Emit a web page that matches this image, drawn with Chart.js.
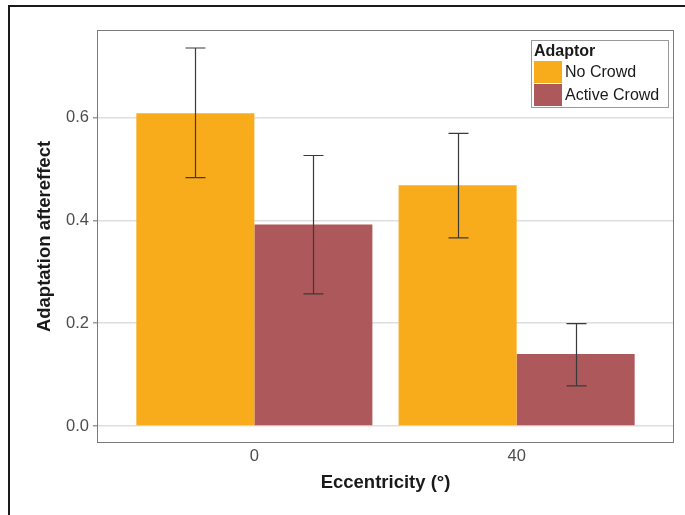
<!DOCTYPE html>
<html>
<head>
<meta charset="utf-8">
<script src="https://cdn.jsdelivr.net/npm/chart.js@4"></script>
<style>
  body { margin: 0; background: #fff; }
  #wrap { position: relative; width: 685px; height: 515px; }
  #frame { position: absolute; left: 8px; top: 5px; right: 0; bottom: 0;
           border-left: 2px solid #1a1a1a; border-top: 2px solid #1a1a1a; pointer-events: none; }
</style>
</head>
<body>
<div id="wrap">
  <canvas id="chart"></canvas>
  <div id="frame"></div>
</div>
<script>
// Data
const categories = ['0', '40'];
const seriesNames = ['No Crowd', 'Active Crowd'];
const noCrowd = [0.608, 0.468];
const activeCrowd = [0.392, 0.140];
const noCrowdLow = [0.483, 0.366];
const noCrowdHigh = [0.735, 0.569];
const activeCrowdLow = [0.257, 0.078];
const activeCrowdHigh = [0.526, 0.199];
const yTicks = [0, 0.2, 0.4, 0.6];

const colors = ['#F9AC1B', '#AD585A'];
const font = 'Liberation Sans, Arial, sans-serif';

// Panel border, error bars and legend drawn on top of the bars
const extras = {
    id: 'extras',
    afterDatasetsDraw(chart) {
        const ctx = chart.ctx;
        const a = chart.chartArea;
        const y = chart.scales.y;
        const lows = [noCrowdLow, activeCrowdLow];
        const highs = [noCrowdHigh, activeCrowdHigh];

        ctx.save();
        // error bars
        ctx.strokeStyle = '#3a3a3a';
        ctx.lineWidth = 1.2;
        chart.data.datasets.forEach((ds, d) => {
            chart.getDatasetMeta(d).data.forEach((bar, i) => {
                const x = Math.round(bar.x) + 0.5;
                const yl = y.getPixelForValue(lows[d][i]);
                const yh = y.getPixelForValue(highs[d][i]);
                ctx.beginPath();
                ctx.moveTo(x, yl); ctx.lineTo(x, yh);
                ctx.moveTo(x - 10, yl); ctx.lineTo(x + 10, yl);
                ctx.moveTo(x - 10, yh); ctx.lineTo(x + 10, yh);
                ctx.stroke();
            });
        });

        // panel border
        ctx.strokeStyle = '#7a7a7a';
        ctx.lineWidth = 1;
        ctx.strokeRect(Math.round(a.left) + 0.5, Math.round(a.top) + 0.5,
                       Math.round(a.right - a.left) - 1, Math.round(a.bottom - a.top) - 1);

        // legend
        const lx = 531, ly = 40;
        ctx.fillStyle = '#fff';
        ctx.fillRect(lx, ly, 137, 67);
        ctx.strokeStyle = '#9a9a9a';
        ctx.strokeRect(lx + 0.5, ly + 0.5, 137, 67);
        ctx.fillStyle = '#1a1a1a';
        ctx.font = 'bold 16px ' + font;
        ctx.textBaseline = 'middle';
        ctx.textAlign = 'left';
        ctx.fillText('Adaptor', lx + 3, ly + 12);
        ctx.font = '16px ' + font;
        seriesNames.forEach((name, i) => {
            const ky = ly + 21 + i * 23;
            ctx.fillStyle = colors[i];
            ctx.fillRect(lx + 3, ky, 28, 22);
            ctx.fillStyle = '#1a1a1a';
            ctx.fillText(name, lx + 34, ky + 11.5);
        });
        ctx.restore();
    }
};

new Chart(document.getElementById('chart'), {
    type: 'bar',
    data: {
        datasets: [
            { label: seriesNames[0], data: noCrowd.map((v, i) => ({ x: i, y: v })), backgroundColor: colors[0] },
            { label: seriesNames[1], data: activeCrowd.map((v, i) => ({ x: i, y: v })), backgroundColor: colors[1] }
        ]
    },
    options: {
        responsive: true,
        maintainAspectRatio: false,
        animation: false,
        layout: { padding: { top: 30, right: 11, left: 30, bottom: 17 } },
        datasets: { bar: { categoryPercentage: 0.9, barPercentage: 1.0 } },
        plugins: { legend: { display: false }, tooltip: { enabled: false } },
        scales: {
            x: {
                type: 'linear',
                offset: false,
                min: -0.6,
                max: 1.6,
                afterBuildTicks: s => { s.ticks = categories.map((c, i) => ({ value: i })); },
                afterFit: s => { s.height = 55; },
                ticks: {
                    callback: v => categories[v],
                    color: '#4d4d4d',
                    font: { family: font, size: 16.5 },
                    padding: -4
                },
                grid: { display: false },
                border: { display: false },
                title: {
                    display: true,
                    text: 'Eccentricity (°)',
                    color: '#1a1a1a',
                    font: { family: font, size: 18.5, weight: 'bold' },
                    padding: { top: 4, bottom: 4 }
                }
            },
            y: {
                min: -0.033,
                max: 0.77,
                afterBuildTicks: s => { s.ticks = yTicks.map(v => ({ value: v })); },
                afterFit: s => { s.width = 67; },
                ticks: {
                    callback: v => v.toFixed(1),
                    color: '#4d4d4d',
                    font: { family: font, size: 16.5 },
                    padding: 4
                },
                grid: { color: '#dedede', tickColor: '#9a9a9a', tickLength: 4, lineWidth: 1.5 },
                border: { display: false },
                title: {
                    display: true,
                    text: 'Adaptation aftereffect',
                    color: '#1a1a1a',
                    font: { family: font, size: 18.5, weight: 'bold' },
                    padding: { top: 4, bottom: 4 }
                }
            }
        }
    },
    plugins: [extras]
});
</script>
</body>
</html>
